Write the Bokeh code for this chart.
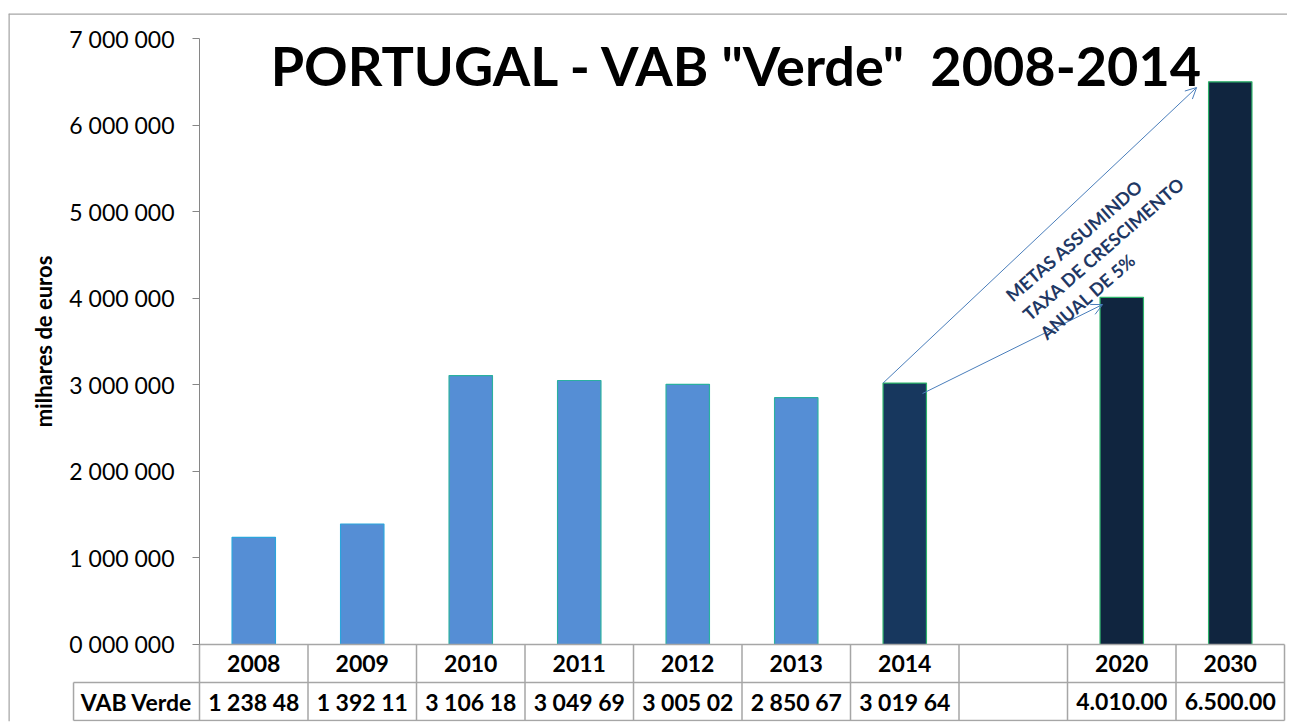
from bokeh.plotting import figure
from bokeh.models import (Range1d, LinearAxis, FixedTicker, Label, Arrow, OpenHead,
                          ColumnDataSource)
from bokeh.embed import file_html
from bokeh.resources import INLINE
from bokeh.core.properties import value

# ---------------- data ----------------
categories = ["2008", "2009", "2010", "2011", "2012", "2013", "2014", "", "2020", "2030"]
values = [1238480, 1392110, 3106180, 3049690, 3005020, 2850670, 3019640, None, 4010000, 6500000]
value_labels = ["1 238 48", "1 392 11", "3 106 18", "3 049 69", "3 005 02",
                "2 850 67", "3 019 64", "", "4.010.00", "6.500.00"]
bar_fill = ["#558ED5", "#558ED5", "#558ED5", "#558ED5", "#558ED5", "#558ED5",
            "#17375E", None, "#10253F", "#10253F"]
bar_line = ["#2AA5DC", "#2AA5DC", "#2AB0A0", "#2AB0A0", "#2AB0A0", "#2AB0A0",
            "#2DB36A", None, "#2DB36A", "#2DB36A"]
y_ticks = [0, 1000000, 2000000, 3000000, 4000000, 5000000, 6000000, 7000000]
y_tick_labels = ["0 000 000", "1 000 000", "2 000 000", "3 000 000",
                 "4 000 000", "5 000 000", "6 000 000", "7 000 000"]
title_text = 'PORTUGAL - VAB "Verde"\u00a0 2008-2014'
note_lines = ["METAS ASSUMINDO", "TAXA DE CRESCIMENTO", "ANUAL DE 5%"]
row_label = "VAB Verde"
y_label = "milhares de euros"

FONT = "Lato"
GRID = "#A6A6A6"

# ---------------- figure ----------------
X0, X1 = -1.7604, 10.0276
Y0, Y1 = -889440, 7288780
p = figure(width=1287, height=723,
           x_range=Range1d(X0, X1), y_range=Range1d(Y0, Y1),
           x_axis_type=None, y_axis_type=None,
           output_backend="svg", toolbar_location=None,
           min_border_left=8, min_border_right=0,
           min_border_top=13, min_border_bottom=2)
p.outline_line_color = None
p.background_fill_color = "white"

# outer chart border (left and top edges)
p.segment(x0=[X0, X0], y0=[Y0, Y1], x1=[X0, X1], y1=[Y1, Y1],
          line_color=GRID, line_width=2.5)

yaxis = LinearAxis(bounds=(0, 7000000), fixed_location=0,
                   ticker=FixedTicker(ticks=y_ticks, minor_ticks=[]),
                   major_label_overrides={t: l for t, l in zip(y_ticks, y_tick_labels)},
                   axis_label=y_label)
yaxis.axis_line_color = "#868686"
yaxis.major_tick_line_color = "#868686"
yaxis.major_tick_out = 7
yaxis.major_tick_in = 0
yaxis.minor_tick_line_color = None
yaxis.major_label_standoff = 18
yaxis.major_label_text_font = FONT
yaxis.major_label_text_font_size = "23px"
yaxis.major_label_text_color = "#000000"
yaxis.axis_label_text_font = FONT
yaxis.axis_label_text_font_style = "bold"
yaxis.axis_label_text_font_size = "22px"
yaxis.axis_label_text_color = "#000000"
yaxis.axis_label_standoff = 9
p.add_layout(yaxis, "left")

# ---------------- bars ----------------
idx = [i for i, v in enumerate(values) if v is not None]
src = ColumnDataSource(dict(
    x=[i + 0.5 for i in idx],
    top=[values[i] for i in idx],
    fill=[bar_fill[i] for i in idx],
    line=[bar_line[i] for i in idx],
))
p.vbar(x="x", top="top", bottom=0, width=0.4, fill_color="fill",
       line_color="line", line_width=1.2, source=src)

# ---------------- data table below the axis ----------------
n = len(categories)
ROW1 = -439000
ROW2 = -878000
HDR = -1.161
p.segment(x0=[0, HDR, HDR], y0=[0, ROW1, ROW2], x1=[n, n, n], y1=[0, ROW1, ROW2],
          line_color=GRID, line_width=1.5)
p.segment(x0=list(range(n + 1)) + [HDR], y0=[0] * (n + 1) + [ROW1],
          x1=list(range(n + 1)) + [HDR], y1=[ROW2] * (n + 2),
          line_color=GRID, line_width=1.5)
p.text(x=[i + 0.5 for i in range(n)], y=[ROW1 / 2] * n, text=categories,
       text_font=value(FONT), text_font_style="bold", text_font_size="23px",
       text_align="center", text_baseline="middle", text_color="#000000")
p.text(x=[i + 0.5 for i in range(n)], y=[(ROW1 + ROW2) / 2] * n, text=value_labels,
       text_font=value(FONT), text_font_style="bold", text_font_size="23px",
       text_align="center", text_baseline="middle", text_color="#000000")
p.text(x=[HDR / 2], y=[(ROW1 + ROW2) / 2], text=[row_label],
       text_font=value(FONT), text_font_style="bold", text_font_size="23px",
       text_align="center", text_baseline="middle", text_color="#000000")

# ---------------- title ----------------
p.add_layout(Label(x=4.96, y=6690000, text=title_text,
                   text_font=FONT, text_font_style="bold", text_font_size="54px",
                   text_align="center", text_baseline="middle", text_color="#000000"))

# ---------------- arrows & note ----------------
ARROW = "#4A7EBB"
bw = 0.4
x2014 = categories.index("2014") + 0.5
p.add_layout(Arrow(x_start=x2014 - bw / 2, y_start=values[6], x_end=9.19, y_end=6434000,
                   line_color=ARROW, line_width=1,
                   end=OpenHead(size=11, line_color=ARROW, line_width=1)))
p.add_layout(Arrow(x_start=6.664, y_start=2899000, x_end=8.323, y_end=3927000,
                   line_color=ARROW, line_width=1,
                   end=OpenHead(size=11, line_color=ARROW, line_width=1)))

note_pos = [(7.456, 4008000), (7.613, 3789000), (7.770, 3569000)]
for (nx, ny), line in zip(note_pos, note_lines):
    p.add_layout(Label(x=nx, y=ny, text=line, angle=0.716,
                       text_font=FONT, text_font_style="bold", text_font_size="18px",
                       text_align="left", text_baseline="alphabetic",
                       text_color="#1F3864"))

open("out.html", "w").write(file_html(p, INLINE))
